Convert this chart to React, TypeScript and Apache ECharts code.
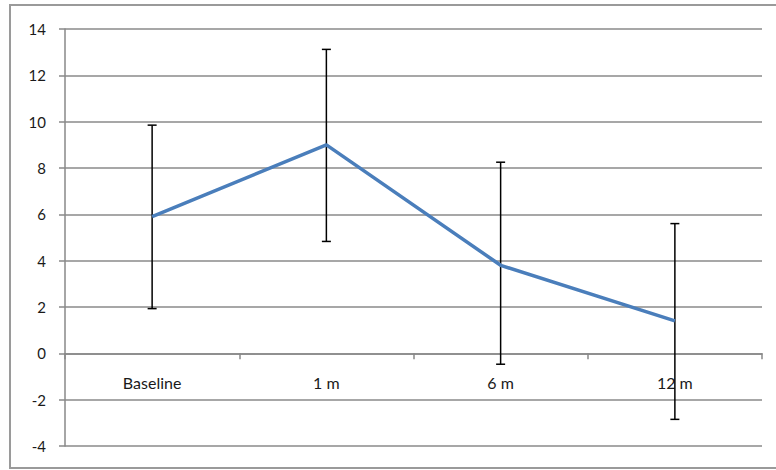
import React, { useEffect, useRef } from "react";
import * as echarts from "echarts";

const categories = ["Baseline", "1 m", "6 m", "12 m"];
const meanValues = [5.9, 9.0, 3.8, 1.4];
const lowValues = [1.93, 4.83, -0.47, -2.85];
const highValues = [9.85, 13.12, 8.25, 5.6];
const yTicks = { min: -4, max: 14, interval: 2 };

export default function App() {
  const ref = useRef<HTMLDivElement>(null);
  useEffect(() => {
    if (!ref.current) return;
    const chart = echarts.init(ref.current, null, { renderer: "svg" });
    const font = "Lato, 'Open Sans', sans-serif";
    chart.setOption({
      animation: false,
      backgroundColor: "#ffffff",
      textStyle: { fontFamily: font },
      graphic: [
        {
          type: "rect",
          shape: { x: 10, y: 5, width: 790, height: 463 },
          style: { fill: "none", stroke: "#9a9a9a", lineWidth: 2 },
          silent: true,
          z: -1,
        },
      ],
      grid: { left: 65, top: 29, right: 14, bottom: 24, containLabel: false, outerBoundsMode: "none" },
      xAxis: {
        type: "category",
        data: categories,
        boundaryGap: true,
        axisLine: { show: true, onZero: true, lineStyle: { color: "#888888", width: 1.5 } },
        axisTick: { show: true, alignWithLabel: false, length: 6, lineStyle: { color: "#888888", width: 1.5 } },
        axisLabel: { color: "#1a1a1a", fontSize: 16, margin: -72, fontFamily: font },
        splitLine: { show: false },
      },
      yAxis: {
        type: "value",
        min: yTicks.min,
        max: yTicks.max,
        interval: yTicks.interval,
        axisLine: { show: true, lineStyle: { color: "#888888", width: 1.5 } },
        axisTick: { show: true, length: 6, lineStyle: { color: "#888888", width: 1.5 } },
        axisLabel: { color: "#1a1a1a", fontSize: 15, margin: 19, fontFamily: font },
        splitLine: { show: true, lineStyle: { color: "#8a8a8a", width: 1.5 } },
      },
      series: [
        {
          type: "custom",
          name: "error",
          data: categories.map((_, i) => [i, lowValues[i], highValues[i]]),
          renderItem: (params: any, api: any) => {
            const x = api.value(0);
            const lo = api.coord([x, api.value(1)]);
            const hi = api.coord([x, api.value(2)]);
            const w = 4.5;
            const style = { stroke: "#000000", lineWidth: 1.5 };
            return {
              type: "group",
              children: [
                { type: "line", shape: { x1: lo[0], y1: lo[1], x2: hi[0], y2: hi[1] }, style },
                { type: "line", shape: { x1: lo[0] - w, y1: lo[1], x2: lo[0] + w, y2: lo[1] }, style },
                { type: "line", shape: { x1: hi[0] - w, y1: hi[1], x2: hi[0] + w, y2: hi[1] }, style },
              ],
            };
          },
          z: 3,
        },
        {
          type: "line",
          name: "mean",
          data: meanValues,
          symbol: "none",
          lineStyle: { color: "#4a7ebb", width: 3.5 },
          z: 4,
        },
      ],
    });
    return () => chart.dispose();
  }, []);
  return (
    <div
      ref={ref}
      style={{ position: "fixed", left: 0, top: 0, width: 776, height: 470 }}
    />
  );
}
